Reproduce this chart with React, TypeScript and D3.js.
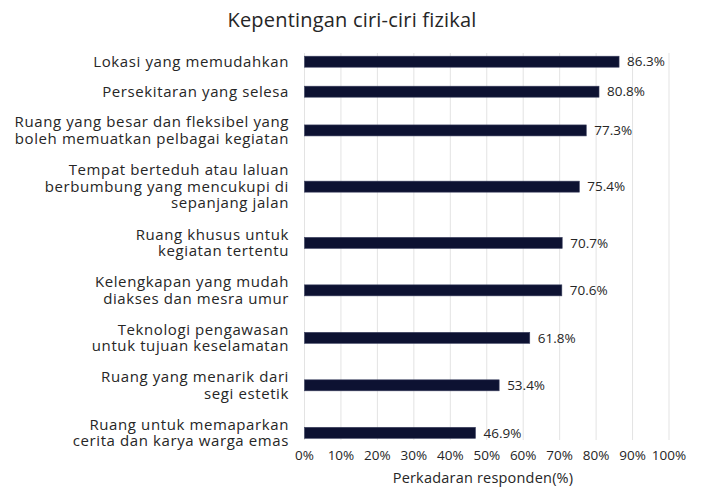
import React from "react";
import * as d3 from "d3";

const title = "Kepentingan ciri-ciri fizikal";
const categories: string[][] = [
  ["Lokasi yang memudahkan"],
  ["Persekitaran yang selesa"],
  ["Ruang yang besar dan fleksibel yang", "boleh memuatkan pelbagai kegiatan"],
  ["Tempat berteduh atau laluan", "berbumbung yang mencukupi di", "sepanjang jalan"],
  ["Ruang khusus untuk", "kegiatan tertentu"],
  ["Kelengkapan yang mudah", "diakses dan mesra umur"],
  ["Teknologi pengawasan", "untuk tujuan keselamatan"],
  ["Ruang yang menarik dari", "segi estetik"],
  ["Ruang untuk memaparkan", "cerita dan karya warga emas"],
];
const values = [86.3, 80.8, 77.3, 75.4, 70.7, 70.6, 61.8, 53.4, 46.9];
const xTicks = [0, 10, 20, 30, 40, 50, 60, 70, 80, 90, 100];
const xAxisTitle = "Perkadaran responden(%)";

const W = 705;
const H = 489;
const FONT = "'Open Sans', sans-serif";
const TEXT = "#262626";
const BAR = "#0d1232";

export default function App() {
  const x = d3.scaleLinear().domain([0, 100]).range([304.5, 669]);

  // category slot size depends on number of label lines
  const slot = (n: number) => 12.5 + 17.5 * n;
  const centersU: number[] = [];
  let acc = 0;
  categories.forEach((c, i) => {
    if (i === 0) acc = slot(c.length) / 2;
    else acc += slot(categories[i - 1].length) / 2 + slot(c.length) / 2;
    centersU.push(acc);
  });
  const y = d3
    .scaleLinear()
    .domain([centersU[0], centersU[centersU.length - 1]])
    .range([61.7, 432.8]);

  const barH = 11;
  const lineH = 16.5;
  const gridTop = 53;
  const gridBottom = 440;

  return (
    <svg
      width={W}
      height={H}
      style={{ position: "absolute", left: 0, top: 0, background: "#fff" }}
      fontFamily={FONT}
    >
      <text
        x={352}
        y={27}
        textAnchor="middle"
        fontSize={20}
        letterSpacing={0.2}
        fill={TEXT}
      >
        {title}
      </text>
      {xTicks.map((t) => (
        <line
          key={"g" + t}
          x1={x(t)}
          x2={x(t)}
          y1={gridTop}
          y2={gridBottom}
          stroke="#e3e3e3"
          strokeWidth={1}
        />
      ))}
      {values.map((v, i) => (
        <rect
          key={"b" + i}
          x={x(0)}
          y={y(centersU[i]) - barH / 2}
          width={x(v) - x(0)}
          height={barH}
          fill={BAR}
          stroke="#3c4160"
          strokeWidth={0.6}
        />
      ))}
      {values.map((v, i) => (
        <text
          key={"v" + i}
          x={x(v) + 8}
          y={y(centersU[i])}
          dy="0.35em"
          fontSize={13.5}
          fill={TEXT}
        >
          {v.toFixed(1) + "%"}
        </text>
      ))}
      {categories.map((lines, i) => {
        const c = y(centersU[i]);
        const start = c - ((lines.length - 1) * lineH) / 2;
        return (
          <text
            key={"c" + i}
            x={289}
            textAnchor="end"
            fontSize={15}
            letterSpacing={0.6}
            fill={TEXT}
          >
            {lines.map((l, j) => (
              <tspan key={j} x={289} y={start + j * lineH} dy="0.35em">
                {l}
              </tspan>
            ))}
          </text>
        );
      })}
      {xTicks.map((t) => (
        <text
          key={"t" + t}
          x={x(t)}
          y={455}
          dy="0.35em"
          textAnchor="middle"
          fontSize={13.5}
          fill={TEXT}
        >
          {t + "%"}
        </text>
      ))}
      <text
        x={483}
        y={478}
        dy="0.35em"
        textAnchor="middle"
        fontSize={14.5}
        letterSpacing={0.2}
        fill={TEXT}
      >
        {xAxisTitle}
      </text>
    </svg>
  );
}
